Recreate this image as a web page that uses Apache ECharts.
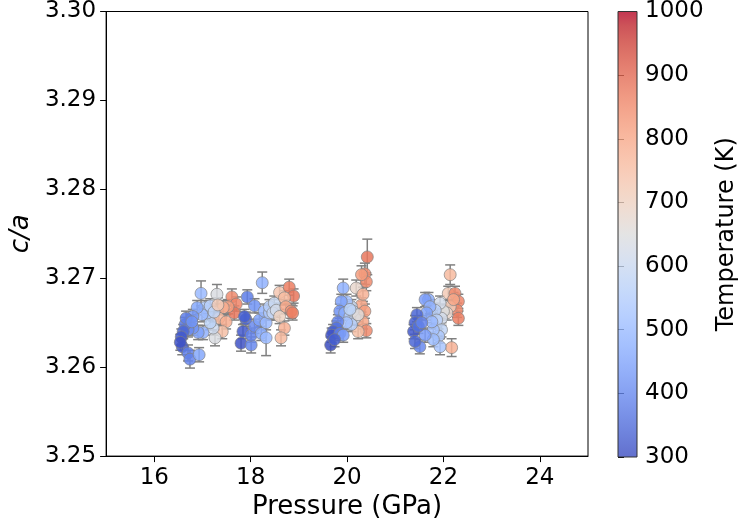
<!DOCTYPE html>
<html><head><meta charset="utf-8">
<script src="https://cdn.jsdelivr.net/npm/echarts@6/dist/echarts.min.js"></script>
<style>html,body{margin:0;padding:0;background:#fff}#c{width:740px;height:525px}</style>
</head><body><div id="c"></div>
<script>
const pressure = [
16.97,17.30,17.61,17.70,17.66,17.53,17.43,17.34,17.49,17.41,17.26,17.22,17.16,17.10,17.05,17.16,16.99,16.89,16.80,17.01,16.91,16.80,16.70,16.64,16.60,16.56,16.58,16.70,16.74,16.93,16.54,16.66,16.78,17.24,17.32,
18.24,17.93,18.08,17.90,17.84,17.80,18.01,18.01,18.08,18.18,18.22,18.32,18.32,18.28,18.39,18.39,18.49,18.46,18.53,18.60,18.60,18.80,18.89,18.70,18.73,18.84,18.87,18.70,18.63,17.87,
20.42,20.37,20.40,20.30,19.92,20.19,20.30,20.37,20.33,20.40,20.23,20.16,20.09,19.99,19.88,19.85,19.95,20.06,20.12,20.09,19.99,19.81,19.78,19.71,19.68,19.85,19.92,19.66,19.74,20.23,20.06,20.33,
22.14,22.10,22.24,22.31,22.28,22.31,22.14,22.07,22.17,22.00,21.96,21.93,21.83,21.86,21.96,21.90,21.93,21.79,21.69,21.62,21.72,21.65,21.76,21.79,21.62,21.51,21.45,21.41,21.38,21.48,21.41,21.55,22.21
];
const ratio = [
3.2683,3.2682,3.2679,3.2671,3.2661,3.2668,3.2667,3.2655,3.2651,3.2640,3.2633,3.2644,3.2650,3.2661,3.2667,3.2669,3.2659,3.2667,3.2657,3.2639,3.2639,3.2644,3.2642,3.2648,3.2640,3.2634,3.2623,3.2616,3.2609,3.2614,3.2628,3.2655,3.2651,3.2662,3.2670,
3.2695,3.2679,3.2669,3.2654,3.2640,3.2627,3.2625,3.2636,3.2646,3.2653,3.2638,3.2633,3.2650,3.2663,3.2661,3.2668,3.2672,3.2661,3.2664,3.2657,3.2684,3.2690,3.2680,3.2678,3.2668,3.2663,3.2661,3.2644,3.2633,3.2657,
3.2724,3.2705,3.2696,3.2704,3.2689,3.2689,3.2670,3.2663,3.2651,3.2641,3.2640,3.2655,3.2668,3.2674,3.2674,3.2663,3.2661,3.2657,3.2663,3.2648,3.2650,3.2651,3.2644,3.2640,3.2636,3.2638,3.2636,3.2625,3.2631,3.2659,3.2665,3.2682,
3.2704,3.2683,3.2683,3.2674,3.2664,3.2655,3.2668,3.2661,3.2622,3.2663,3.2655,3.2672,3.2664,3.2653,3.2642,3.2635,3.2623,3.2642,3.2676,3.2676,3.2668,3.2661,3.2651,3.2631,3.2636,3.2623,3.2659,3.2650,3.2640,3.2646,3.2629,3.2650,3.2676
];
const temperature = [
500,640,850,860,880,820,790,760,790,750,640,610,570,530,540,560,500,460,430,480,450,420,400,370,340,320,320,380,390,460,310,380,420,580,720,
480,380,420,340,320,310,400,390,400,450,460,500,500,490,540,560,600,590,620,700,730,870,880,760,800,840,870,780,760,330,
880,850,850,820,480,680,800,820,800,850,750,620,600,520,450,420,470,560,600,560,520,390,360,330,310,380,440,300,330,660,570,780,
760,720,850,860,850,870,720,680,780,650,620,620,560,560,580,540,530,520,470,440,480,450,500,510,440,400,340,330,320,360,340,390,800
];
const ratioErr = [
0.0014,0.0011,0.0009,0.0008,0.0008,0.0008,0.0008,0.0008,0.0008,0.0008,0.0009,0.0008,0.0008,0.0008,0.0008,0.0008,0.0008,0.0008,0.0008,0.0008,0.0008,0.0008,0.0008,0.0008,0.0008,0.0009,0.0009,0.0009,0.0010,0.0008,0.0009,0.0008,0.0008,0.0008,0.0008,
0.0012,0.0008,0.0008,0.0008,0.0008,0.0009,0.0009,0.0008,0.0008,0.0008,0.0008,0.0020,0.0008,0.0008,0.0008,0.0008,0.0008,0.0008,0.0008,0.0008,0.0008,0.0009,0.0008,0.0008,0.0008,0.0008,0.0008,0.0008,0.0009,0.0008,
0.0020,0.0012,0.0010,0.0010,0.0010,0.0009,0.0008,0.0008,0.0008,0.0008,0.0008,0.0008,0.0008,0.0008,0.0008,0.0008,0.0008,0.0008,0.0008,0.0008,0.0008,0.0008,0.0008,0.0008,0.0008,0.0008,0.0008,0.0009,0.0008,0.0008,0.0008,0.0008,
0.0011,0.0008,0.0008,0.0008,0.0008,0.0008,0.0008,0.0008,0.0010,0.0008,0.0008,0.0008,0.0008,0.0008,0.0008,0.0008,0.0009,0.0008,0.0008,0.0008,0.0008,0.0008,0.0008,0.0008,0.0008,0.0008,0.0008,0.0008,0.0008,0.0008,0.0008,0.0008,0.0008
];
const xTicks = [16, 18, 20, 22, 24];
const yTicks = [3.25, 3.26, 3.27, 3.28, 3.29, 3.30];
const tempTicks = [300, 400, 500, 600, 700, 800, 900, 1000];

const coolwarm = ['#3b4cc0','#445acc','#4d68d7','#5775e1','#6282ea','#6c8ef1','#779af7','#82a5fb','#8db0fe','#98b9ff','#a3c2ff','#aec9fd','#b8d0f9','#c2d5f4','#ccd9ee','#d5dbe6','#dddddd','#e5d8d1','#ecd3c5','#f1ccb8','#f5c4ad','#f7bba0','#f7b194','#f7a687','#f49a7b','#f18d6f','#ec7f63','#e57058','#de604d','#d55042','#cb3e38','#c0282f','#b40426'];
const stops = coolwarm.map((c, i) => ({offset: i / (coolwarm.length - 1), color: c}));

const pts = pressure.map((p, i) => [p, ratio[i], temperature[i]]);
const errs = pressure.map((p, i) => [p, ratio[i] - ratioErr[i], ratio[i] + ratioErr[i]]);
const FONT = 'DejaVu Sans';

const chart = echarts.init(document.getElementById('c'));
chart.setOption({
  animation: false,
  backgroundColor: '#fff',
  textStyle: {fontFamily: FONT},
  grid: [
    {left: 106, top: 10, width: 482, height: 447, show: true, borderColor: '#000', borderWidth: 1, backgroundColor: 'transparent'},
    {left: 618, top: 10, width: 23, height: 447, show: false}
  ],
  xAxis: [
    {type: 'value', gridIndex: 0, min: 15, max: 25, interval: 1,
     name: 'Pressure (GPa)', nameLocation: 'middle', nameGap: 32,
     nameTextStyle: {fontSize: 26, color: '#000', fontFamily: FONT},
     axisLine: {show: true, lineStyle: {color: '#000', width: 1}},
     axisTick: {show: true, length: 6, lineStyle: {color: '#000'}, customValues: xTicks},
     axisLabel: {fontSize: 23, color: '#000', margin: 10, fontFamily: FONT, customValues: xTicks},
     splitLine: {show: false}},
    {type: 'value', gridIndex: 1, min: 0, max: 1, show: false}
  ],
  yAxis: [
    {type: 'value', gridIndex: 0, min: 3.25, max: 3.30, interval: 0.01,
     name: 'c/a', nameLocation: 'middle', nameGap: 67, nameRotate: 90,
     nameTextStyle: {fontSize: 26, color: '#000', fontStyle: 'italic', fontFamily: FONT},
     axisLine: {show: true, lineStyle: {color: '#000', width: 1}},
     axisTick: {show: true, length: 6, lineStyle: {color: '#000'}},
     axisLabel: {fontSize: 23, color: '#000', margin: 10, fontFamily: FONT, formatter: v => v.toFixed(2)},
     splitLine: {show: false}},
    {type: 'value', gridIndex: 1, min: 300, max: 1000, interval: 100, position: 'right',
     name: 'Temperature (K)', nameLocation: 'middle', nameGap: 78, nameRotate: 90,
     nameTextStyle: {fontSize: 24, color: '#000', fontFamily: FONT},
     axisLine: {show: false},
     axisTick: {show: true, length: 6, lineStyle: {color: '#000'}, customValues: tempTicks},
     axisLabel: {fontSize: 23, color: '#000', margin: 8, fontFamily: FONT, customValues: tempTicks, formatter: v => String(v)},
     splitLine: {show: false}}
  ],
  visualMap: {type: 'continuous', show: false, min: 300, max: 1000, dimension: 2, seriesIndex: 1,
    inRange: {color: coolwarm}},
  series: [
    {type: 'custom', xAxisIndex: 0, yAxisIndex: 0, data: errs, z: 2,
     renderItem: function (params, api) {
       const top = api.coord([api.value(0), api.value(2)]);
       const bot = api.coord([api.value(0), api.value(1)]);
       const s = {stroke: '#808080', lineWidth: 1.5};
       return {type: 'group', children: [
         {type: 'line', shape: {x1: top[0], y1: top[1], x2: bot[0], y2: bot[1]}, style: s},
         {type: 'line', shape: {x1: top[0] - 5, y1: top[1], x2: top[0] + 5, y2: top[1]}, style: s},
         {type: 'line', shape: {x1: bot[0] - 5, y1: bot[1], x2: bot[0] + 5, y2: bot[1]}, style: s}
       ]};
     }},
    {type: 'scatter', xAxisIndex: 0, yAxisIndex: 0, data: pts, z: 3, symbolSize: 12,
     itemStyle: {opacity: 0.85, borderColor: '#7f7f7f', borderWidth: 0.8}},
    {type: 'custom', xAxisIndex: 1, yAxisIndex: 1, data: [[0, 300, 1000]], z: 2,
     renderItem: function (params, api) {
       const p0 = api.coord([0, api.value(2)]);
       const p1 = api.coord([1, api.value(1)]);
       const shape = {x: p0[0], y: p0[1], width: p1[0] - p0[0], height: p1[1] - p0[1]};
       return {type: 'group', children: [
         {type: 'rect', shape: shape, style: {fill: new echarts.graphic.LinearGradient(0, 1, 0, 0, stops), opacity: 0.8}},
         {type: 'rect', shape: shape, style: {fill: 'none', stroke: '#333', lineWidth: 1}}
       ]};
     }}
  ]
});
</script></body></html>
